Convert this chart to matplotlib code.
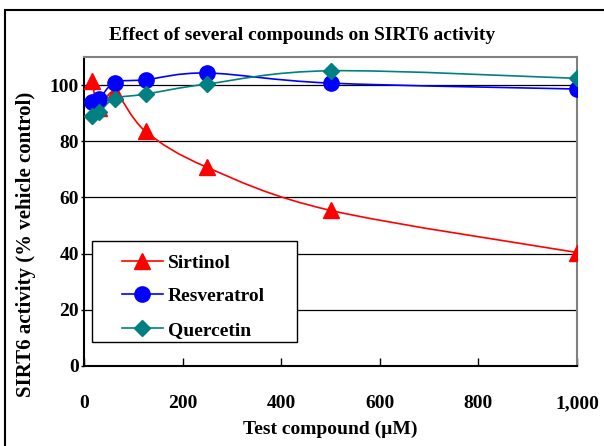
import numpy as np
import matplotlib
matplotlib.use("Agg")
from matplotlib import pyplot as plt
from matplotlib.path import Path
from matplotlib.patches import PathPatch, Rectangle

conc = [15.6, 31.25, 62.5, 125, 250, 500, 1000]
sirtinol = [101.5, 92.0, 97.4, 83.5, 70.7, 55.4, 40.4]
resveratrol = [94.0, 95.2, 100.9, 101.9, 104.3, 100.7, 98.6]
quercetin = [89.0, 90.5, 95.2, 96.8, 100.4, 105.1, 102.4]

names = ['Sirtinol', 'Resveratrol', 'Quercetin']
colors = ['#FF0000', '#0000FF', '#008080']
markers = ['^', 'o', 'D']
msizes = [11, 11, 8.5]

plt.rcParams['font.family'] = ['Liberation Serif', 'DejaVu Serif']
plt.rcParams['font.weight'] = 'bold'


def smooth_path(x, y):
    # Excel style smoothed line: Catmull-Rom converted to cubic Bezier
    pts = np.column_stack([x, y]).astype(float)
    n = len(pts)
    verts = [pts[0]]
    codes = [Path.MOVETO]
    for i in range(n - 1):
        p0 = pts[i - 1] if i > 0 else pts[i]
        p1 = pts[i]
        p2 = pts[i + 1]
        p3 = pts[i + 2] if i + 2 < n else pts[i + 1]
        c1 = p1 + (p2 - p0) / 6.0
        c2 = p2 - (p3 - p1) / 6.0
        verts += [c1, c2, p2]
        codes += [Path.CURVE4] * 3
    return Path(verts, codes)


fig = plt.figure(figsize=(6.04, 4.46), dpi=100)
ax = fig.add_axes([84 / 604, 1 - 366 / 446, 493 / 604, 309 / 446])

for vals, name, c, m, ms in zip([sirtinol, resveratrol, quercetin], names, colors, markers, msizes):
    ax.add_patch(PathPatch(smooth_path(conc, vals), facecolor='none',
                           edgecolor=c, linewidth=1.2, zorder=3))
    ax.plot(conc, vals, linestyle='none', marker=m, markersize=ms,
            color=c, markeredgecolor=c, zorder=4)
    ax.plot([], [], '-', marker=m, markersize=ms, color=c, linewidth=1.2, label=name)

ax.set_xlim(0, 1000)
ax.set_ylim(0, 110)
ax.set_xticks([0, 200, 400, 600, 800, 1000])
ax.set_xticklabels(['0', '200', '400', '600', '800', '1,000'])
ax.set_yticks([0, 20, 40, 60, 80, 100])
for yv in [20, 40, 60, 80, 100]:
    ax.axhline(yv, color='black', linewidth=0.9, zorder=1)

ax.tick_params(axis='x', direction='in', length=6, width=1, pad=21, labelsize=14)
ax.tick_params(axis='y', direction='out', length=2.5, width=1, pad=1, labelsize=14)
for lab in ax.get_xticklabels() + ax.get_yticklabels():
    lab.set_fontweight('bold')

ax.spines['top'].set_color('#808080')
ax.spines['right'].set_color('#808080')
for s in ['top', 'right', 'left', 'bottom']:
    ax.spines[s].set_linewidth(1.5)

ax.set_xlabel('Test compound (µM)', fontsize=14, fontweight='bold', labelpad=6)
ax.set_ylabel('SIRT6 activity (% vehicle control)', fontsize=15, fontweight='bold')
ax.yaxis.set_label_coords((36 - 84) / 493, (366 - 244) / 309)
fig.text(0.5, 1 - 35 / 446, 'Effect of several compounds on SIRT6 activity',
         ha='center', va='center', fontsize=14, fontweight='bold')

# legend box drawn separately so its size matches the original
ax.add_patch(Rectangle(((92 - 84) / 493, (366 - 342) / 309), 205 / 493, 101 / 309,
                       transform=ax.transAxes, facecolor='white', edgecolor='black',
                       linewidth=1.0, zorder=9))
leg = ax.legend(loc='upper left', bbox_to_anchor=((122 - 84) / 493, (366 - 254) / 309),
                frameon=False, borderpad=0, borderaxespad=0,
                prop={'weight': 'bold', 'size': 14}, handlelength=2.1,
                labelspacing=0.82, handletextpad=0.25)
leg.set_zorder(10)

# outer chart border
fig.patches.append(Rectangle((5 / 604, -0.1), 1.2, 1 - 10 / 446 + 0.1,
                             transform=fig.transFigure, fill=False,
                             edgecolor='black', linewidth=1.5))

fig.savefig('out.png', dpi=100)
